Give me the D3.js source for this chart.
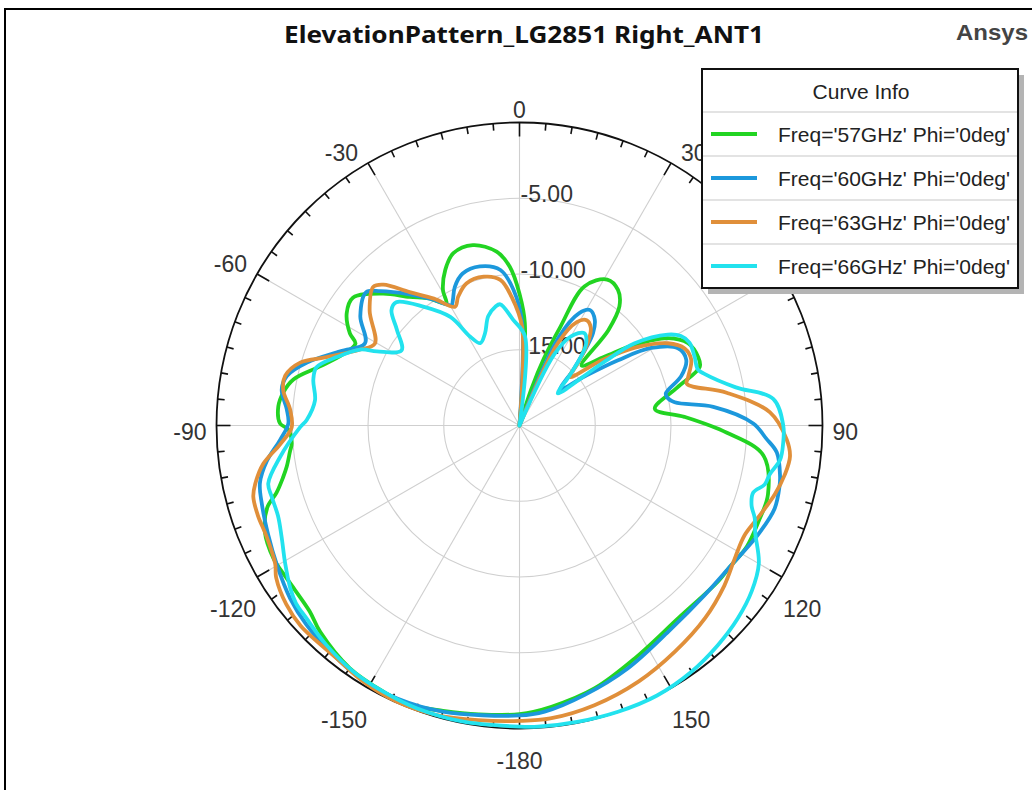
<!DOCTYPE html>
<html>
<head>
<meta charset="utf-8">
<script src="https://cdn.jsdelivr.net/npm/d3@7"></script>
<style>
  html, body { margin: 0; padding: 0; background: #fff; }
  svg { display: block; }
</style>
</head>
<body>
<svg id="chart" width="1032" height="790"></svg>
<script>
// ---- data -------------------------------------------------------------
const chartTitle = "ElevationPattern_LG2851 Right_ANT1";
const brandText = "Ansys";
const legendTitle = "Curve Info";

const seriesNames = [
  "Freq='57GHz' Phi='0deg'",
  "Freq='60GHz' Phi='0deg'",
  "Freq='63GHz' Phi='0deg'",
  "Freq='66GHz' Phi='0deg'"
];
const seriesColors = ["#22d422", "#1c98dc", "#e08f3a", "#22e2ee"];

// angular axis (deg) and radial axis (dB); the 60 deg label sits under the legend
const angleTickStep = 5;
const angleLabelValues = [0, 30, 90, 120, 150, -180, -150, -120, -90, -60, -30];
const spokeAngles = [0, 30, 60, 90, 120, 150, 180, 210, 240, 270, 300, 330];
const radialDomain = [-20, 0];
const radialGridValues = [-15, -10, -5];
const radialLabels = ["-15.00", "-10.00", "-5.00"];

// gain patterns: [theta (deg), gain (dB)]
const freq57 = [
  [-172,-0.75],[-165,-0.5],[-158.5,-0.18],[-153,-0.26],[-145,-0.45],[-136,-1.06],[-131.5,-1.5],
  [-123.5,-1.62],[-118.5,-1.54],[-112.5,-1.8],[-108,-2.5],[-105.5,-3.35],[-102.5,-4.0],[-100,-4.4],
  [-96.5,-4.75],[-94.5,-4.92],[-91,-4.74],[-89.5,-4.19],[-85.5,-4.03],[-82,-4.26],[-78.5,-4.77],
  [-73.5,-6.27],[-68,-7.45],[-63.5,-7.9],[-61.5,-7.26],[-57,-6.4],[-52.5,-6.14],[-46,-7.47],
  [-40.5,-8.84],[-35.5,-9.7],[-31,-10.6],[-29.5,-9.74],[-25.5,-8.62],[-21,-7.82],[-14.5,-7.7],
  [-7.5,-8.43],[-3.5,-9.5],[0,-11.3],[3,-13.25],[4,-20],[16,-20],[18,-17.5],[20,-15.3],
  [22.5,-12.95],[25,-9.87],[31,-8.76],[36,-8.94],[40,-9.74],[43,-11.4],[46,-14.3],[51,-12.8],
  [55,-10.7],[59.5,-8.63],[64,-7.62],[69,-7.37],[72,-7.49],[76.5,-9.3],[83,-11.0],[87,-9.1],
  [92,-6.3],[97,-3.78],[105.5,-2.98],[112,-3.0],[118,-3.0],[124,-3.27],[128,-3.33],[140.5,-3.52],
  [153.5,-2.86],[164,-1.96],[173.5,-1.32],[180,-0.95]
];
const freq60 = [
  [-165,-0.45],[-156,-0.25],[-148,-0.27],[-140,-0.53],[-133,-0.75],[-127,-1.04],[-120,-1.52],
  [-113.5,-1.91],[-107,-2.22],[-102.5,-2.45],[-98,-3.16],[-93.5,-4.16],[-89.5,-4.74],[-86,-4.6],
  [-81.5,-4.13],[-78,-4.3],[-73.5,-5.37],[-67.5,-7.19],[-62,-8.45],[-55.5,-7.25],[-49,-6.59],
  [-46,-7.24],[-40,-8.7],[-35,-9.8],[-29.5,-10.87],[-28,-10.63],[-25,-9.9],[-20.5,-9.29],
  [-14,-9.18],[-7,-9.66],[-2.5,-11.05],[1.5,-13.25],[2.5,-20],[22,-20],[24,-13.6],[28,-11.6],
  [31.5,-11.07],[35.5,-11.44],[38.5,-12.2],[40.5,-13.16],[44,-14.9],[48.5,-16.4],[53,-14.6],
  [56.5,-12.2],[59.5,-9.92],[64,-8.36],[68.5,-8.17],[73,-8.84],[77.5,-10.1],[79,-10.1],
  [81.5,-9.64],[84.5,-7.15],[89.5,-4.57],[93,-3.7],[96,-2.92],[101,-2.48],[103,-2.38],
  [108,-2.29],[114.5,-2.68],[123.5,-3.26],[132.5,-3.43],[144,-3.23],[156,-2.45],[166.5,-1.7],
  [175,-1.04],[180,-0.86]
];
const freq63 = [
  [-172,-0.36],[-164,-0.12],[-156,-0.05],[-148.5,-0.2],[-142,-0.46],[-132.5,-0.42],[-127.5,-0.6],
  [-122,-1.06],[-119.5,-1.47],[-113.5,-1.77],[-109,-1.74],[-105,-1.81],[-102.5,-2.13],
  [-98.5,-2.9],[-94.5,-4.15],[-90.5,-4.96],[-86,-4.82],[-81.5,-4.23],[-78,-4.19],[-74,-4.94],
  [-70.5,-6.49],[-64.5,-8.35],[-60.5,-9.03],[-52.5,-7.53],[-46.5,-6.7],[-44,-7.08],[-39.5,-8.59],
  [-34,-9.9],[-28.5,-11.08],[-25.5,-10.59],[-20.5,-9.99],[-13.5,-9.9],[-7.5,-10.3],[-3.5,-11.5],
  [1.5,-13.5],[2.5,-20],[23,-20],[25,-14],[29,-12.2],[32.5,-11.76],[36,-12.0],[39.5,-12.9],
  [43,-14.3],[46,-15.4],[51.5,-13.1],[56,-10.8],[61,-8.8],[65,-7.97],[69,-7.86],[74,-8.42],
  [76,-8.62],[81,-6.16],[87,-3.44],[93,-2.34],[96.5,-2.03],[100.5,-2.19],[105,-2.54],[111,-3.11],
  [116,-3.47],[121.5,-3.31],[128,-2.84],[136,-2.35],[145.5,-1.89],[155,-1.37],[165,-0.89],
  [174,-0.56],[180,-0.5]
];
const freq66 = [
  [-169,-0.1],[-160,-0.14],[-153,-0.26],[-146,-0.4],[-138.5,-0.71],[-132,-1.04],[-128.5,-1.15],
  [-125.5,-1.43],[-120.5,-2.05],[-115,-2.67],[-110.5,-2.98],[-106,-2.98],[-103,-2.98],
  [-97.5,-4.06],[-90.5,-5.51],[-88.5,-5.95],[-83,-6.4],[-77.5,-6.06],[-74,-6.06],[-69.5,-7.11],
  [-64.5,-8.35],[-62.5,-9.39],[-57.5,-10.77],[-52,-9.73],[-48,-8.63],[-45,-8.49],[-39,-9.9],
  [-32.5,-11.5],[-29,-13.3],[-25.5,-13.98],[-20.5,-13.5],[-16,-12.5],[-11.5,-12.0],[-9,-11.9],
  [-3.5,-13.0],[3.5,-14.1],[4.5,-20],[24,-20],[26,-14.8],[30,-13.2],[35,-12.55],[39,-13.0],
  [42,-14.0],[45,-15.3],[50,-16.7],[53,-13.2],[54.5,-10.66],[58.5,-8.52],[61,-7.82],[64,-7.52],
  [68.5,-7.58],[72.5,-7.66],[74.5,-7.3],[80,-5.5],[84,-3.16],[90,-2.59],[94,-2.56],[97.5,-2.65],
  [101,-3.17],[103.5,-3.35],[106,-3.95],[109,-3.8],[111.5,-3.31],[114.5,-2.9],[120,-1.76],
  [125.5,-1.17],[131.5,-0.77],[138,-0.46],[145,-0.18],[153,0],[161,-0.02],[169,-0.07],
  [176.5,-0.08],[180,-0.12]
];
const seriesData = [freq57, freq60, freq63, freq66];

// ---- layout -----------------------------------------------------------
const cx = 519.5, cy = 425.5, R = 303;
const fontFamily = "'Liberation Sans', Arial, sans-serif";

const svg = d3.select("#chart");

// outer frame
svg.append("rect")
  .attr("x", 5).attr("y", 9)
  .attr("width", 1100).attr("height", 900)
  .attr("fill", "#fff").attr("stroke", "#000").attr("stroke-width", 2);

// title and brand
svg.append("text")
  .attr("x", 524).attr("y", 43)
  .attr("text-anchor", "middle")
  .attr("font-family", "'Noto Sans', 'Open Sans', sans-serif")
  .attr("font-weight", "bold")
  .attr("font-size", 24)
  .attr("textLength", 480)
  .attr("lengthAdjust", "spacingAndGlyphs")
  .attr("fill", "#111")
  .text(chartTitle);

svg.append("text")
  .attr("x", 1028).attr("y", 40)
  .attr("text-anchor", "end")
  .attr("font-family", fontFamily)
  .attr("font-weight", "bold")
  .attr("font-size", 22)
  .attr("textLength", 72)
  .attr("lengthAdjust", "spacingAndGlyphs")
  .attr("fill", "#444")
  .text(brandText);

// scales
const rScale = d3.scaleLinear().domain(radialDomain).range([0, R]).clamp(true);
const aScale = d3.scaleLinear().domain([-180, 180]).range([-Math.PI, Math.PI]);
const polar = (deg, r) => {
  const t = aScale(deg);
  return [Math.sin(t) * r, -Math.cos(t) * r];
};

const g = svg.append("g").attr("transform", `translate(${cx},${cy})`);

// radial grid circles
g.selectAll("circle.grid")
  .data(radialGridValues)
  .join("circle")
  .attr("class", "grid")
  .attr("r", d => rScale(d))
  .attr("fill", "none")
  .attr("stroke", "#cfcfcf")
  .attr("stroke-width", 1.1);

// spokes
g.selectAll("line.spoke")
  .data(spokeAngles)
  .join("line")
  .attr("class", "spoke")
  .attr("x1", 0).attr("y1", 0)
  .attr("x2", d => polar(d, R)[0])
  .attr("y2", d => polar(d, R)[1])
  .attr("stroke", "#cfcfcf")
  .attr("stroke-width", 1.1);

// outer circle with inward ticks
g.append("circle")
  .attr("r", R)
  .attr("fill", "none")
  .attr("stroke", "#111")
  .attr("stroke-width", 1.8);

const tickAngles = d3.range(-180, 180, angleTickStep);
const tickLen = d => (d % 30 === 0 ? 14 : 7);
g.selectAll("line.tick")
  .data(tickAngles)
  .join("line")
  .attr("class", "tick")
  .attr("x1", d => polar(d, R - tickLen(d))[0])
  .attr("y1", d => polar(d, R - tickLen(d))[1])
  .attr("x2", d => polar(d, R)[0])
  .attr("y2", d => polar(d, R)[1])
  .attr("stroke", "#111")
  .attr("stroke-width", 1.6);

// angle labels: beside the rim on the upper half, below it on the lower half
const angleFont = 23;
g.selectAll("text.alabel")
  .data(angleLabelValues)
  .join("text")
  .attr("class", "alabel")
  .attr("font-family", fontFamily)
  .attr("font-size", angleFont)
  .attr("fill", "#333")
  .text(d => String(d))
  .each(function(d) {
    const [tx, ty] = polar(d, R);
    const a = Math.abs(d);
    const side = d < 0 ? -1 : 1;
    let x, y, anchor;
    if (a === 0 || a === 180) {
      anchor = "middle"; x = tx; y = a === 0 ? ty - 12.5 : ty + 32.5;
    } else if (a < 90) {
      anchor = side < 0 ? "end" : "start"; x = tx + side * 10; y = ty - 10;
    } else if (a === 90) {
      anchor = side < 0 ? "end" : "start"; x = tx + side * 10; y = ty + 6.5;
    } else {
      anchor = side < 0 ? "end" : "start"; x = tx + side * 1; y = ty + 32;
    }
    d3.select(this)
      .attr("text-anchor", anchor)
      .attr("x", x)
      .attr("y", y + 0.36 * angleFont);
  });

// radial labels along the 0 deg spoke
g.selectAll("text.rlabel")
  .data(radialGridValues)
  .join("text")
  .attr("class", "rlabel")
  .attr("x", 1)
  .attr("y", d => -rScale(d) + 4)
  .attr("font-family", fontFamily)
  .attr("font-size", 23)
  .attr("fill", "#333")
  .text((d, i) => radialLabels[i]);

// pattern curves
const line = d3.lineRadial()
  .angle(d => aScale(d[0]))
  .radius(d => rScale(d[1]))
  .curve(d3.curveCatmullRomClosed.alpha(0.5));

g.selectAll("path.trace")
  .data(seriesData)
  .join("path")
  .attr("class", "trace")
  .attr("d", d => line(d))
  .attr("fill", "none")
  .attr("stroke", (d, i) => seriesColors[i])
  .attr("stroke-width", 3.8)
  .attr("stroke-linejoin", "round");

// legend
const lg = { x: 702, y: 69, w: 316, header: 43, row: 44 };
const lgH = lg.header + lg.row * seriesNames.length;
const legend = svg.append("g");
legend.append("rect")
  .attr("x", lg.x + 6).attr("y", lg.y + 6)
  .attr("width", lg.w).attr("height", lgH)
  .attr("fill", "#b4b4b4");
legend.append("rect")
  .attr("x", lg.x).attr("y", lg.y)
  .attr("width", lg.w).attr("height", lgH)
  .attr("fill", "#fff")
  .attr("stroke", "#111").attr("stroke-width", 2);
legend.append("text")
  .attr("x", lg.x + lg.w / 2 + 1).attr("y", lg.y + 30)
  .attr("text-anchor", "middle")
  .attr("font-family", fontFamily)
  .attr("font-size", 21)
  .attr("fill", "#222")
  .text(legendTitle);
seriesNames.forEach((name, i) => {
  const top = lg.y + lg.header + i * lg.row;
  legend.append("line")
    .attr("x1", lg.x + 1).attr("x2", lg.x + lg.w - 1)
    .attr("y1", top).attr("y2", top)
    .attr("stroke", "#c8c8c8").attr("stroke-width", 1.2);
  const mid = top + lg.row / 2;
  legend.append("line")
    .attr("x1", lg.x + 9).attr("x2", lg.x + 55)
    .attr("y1", mid).attr("y2", mid)
    .attr("stroke", seriesColors[i]).attr("stroke-width", 3.8);
  legend.append("text")
    .attr("x", lg.x + 76).attr("y", mid + 7.5)
    .attr("font-family", fontFamily)
    .attr("font-size", 21)
    .attr("fill", "#222")
    .text(name);
});
</script>
</body>
</html>
